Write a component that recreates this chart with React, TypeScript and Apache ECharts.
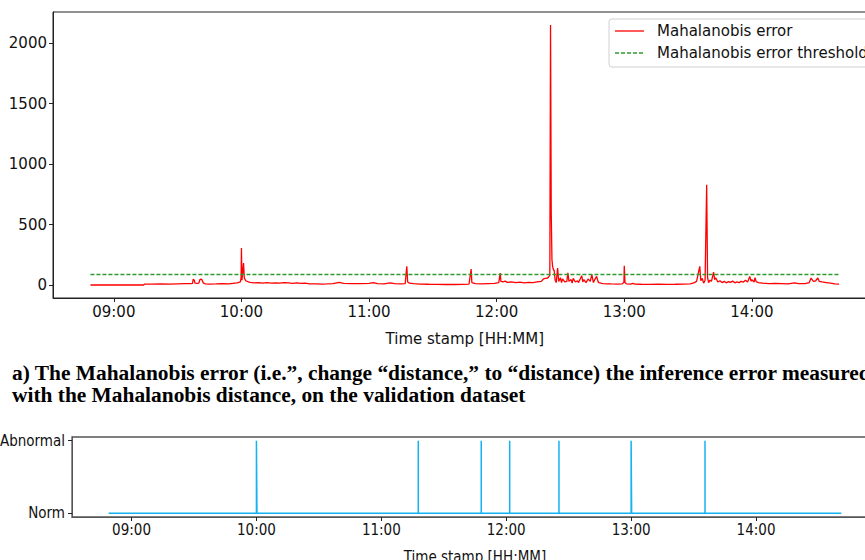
import React, { useEffect, useRef } from "react";
import * as echarts from "echarts";

// ---- Data ----
const errTimes: string[] = [
  "08:49:00", "09:14:00", "09:14:30", "09:18:00", "09:22:00", "09:26:00", "09:30:00", "09:33:00", "09:36:00",
  "09:37:00", "09:37:20", "09:37:50", "09:38:10", "09:39:00", "09:40:00", "09:40:30", "09:41:00", "09:41:30",
  "09:42:00", "09:43:00", "09:45:00", "09:48:00", "09:51:00", "09:54:00", "09:56:00", "09:58:00", "09:59:30",
  "09:59:50", "10:00:00", "10:00:15", "10:00:40", "10:01:00", "10:01:20", "10:02:00", "10:03:00", "10:04:00",
  "10:06:00", "10:08:00", "10:10:00", "10:12:00", "10:14:00", "10:16:00", "10:18:00", "10:20:00", "10:22:00",
  "10:24:00", "10:26:00", "10:28:00", "10:30:00", "10:32:00", "10:35:00", "10:38:00", "10:40:00", "10:43:00",
  "10:46:00", "10:48:00", "10:52:00", "10:56:00", "11:00:00", "11:02:00", "11:04:00", "11:07:00", "11:10:00",
  "11:12:00", "11:15:00", "11:17:00", "11:17:45", "11:18:10", "11:19:00", "11:21:00", "11:24:00", "11:28:00",
  "11:32:00", "11:36:00", "11:40:00", "11:44:00", "11:47:00", "11:48:00", "11:48:20", "11:50:00", "11:53:00",
  "11:56:00", "11:59:00", "12:01:00", "12:01:40", "12:02:00", "12:03:00", "12:04:00", "12:05:00", "12:07:00",
  "12:09:00", "12:11:00", "12:13:00", "12:15:00", "12:17:00", "12:19:00", "12:21:00", "12:22:00", "12:23:00",
  "12:24:00", "12:25:00", "12:25:20", "12:25:40", "12:26:00", "12:26:20", "12:26:50", "12:27:00", "12:27:30",
  "12:28:00", "12:28:40", "12:29:10", "12:30:00", "12:30:30", "12:31:00", "12:32:00", "12:33:00", "12:33:30",
  "12:34:00", "12:35:00", "12:35:30", "12:36:00", "12:37:00", "12:38:00", "12:38:30", "12:39:00", "12:40:00",
  "12:40:30", "12:41:00", "12:42:00", "12:43:00", "12:44:00", "12:44:45", "12:45:30", "12:46:00", "12:47:00",
  "12:47:40", "12:48:00", "12:49:00", "12:50:00", "12:52:00", "12:54:00", "12:57:00", "12:59:00", "12:59:50",
  "13:00:00", "13:00:20", "13:01:00", "13:03:00", "13:04:00", "13:05:00", "13:08:00", "13:12:00", "13:16:00",
  "13:20:00", "13:24:00", "13:28:00", "13:31:00", "13:33:00", "13:34:00", "13:35:30", "13:36:00", "13:36:40",
  "13:37:20", "13:38:00", "13:38:45", "13:39:10", "13:39:40", "13:40:20", "13:41:00", "13:42:00", "13:42:30",
  "13:43:00", "13:44:00", "13:45:00", "13:46:00", "13:47:00", "13:48:00", "13:49:00", "13:50:00", "13:51:00",
  "13:52:00", "13:53:00", "13:54:00", "13:55:00", "13:56:00", "13:57:00", "13:58:00", "13:59:00", "13:59:40",
  "14:00:00", "14:01:00", "14:01:30", "14:02:00", "14:03:00", "14:05:00", "14:08:00", "14:11:00", "14:14:00",
  "14:17:00", "14:20:00", "14:22:00", "14:25:00", "14:27:00", "14:27:50", "14:28:30", "14:29:00", "14:30:00",
  "14:31:00", "14:31:40", "14:33:00", "14:35:00", "14:37:00", "14:39:00", "14:41:00",
];
const errValues: number[] = [
  0, 0, 8, 8, 9, 8, 10, 11, 12,
  14, 48, 40, 15, 14, 16, 45, 50, 42,
  18, 10, 8, 9, 12, 10, 14, 18, 25,
  60, 306, 40, 120, 182, 60, 35, 28, 22,
  18, 20, 15, 19, 16, 18, 15, 20, 17,
  14, 18, 13, 15, 10, 9, 8, 9, 12,
  22, 14, 12, 11, 14, 20, 12, 10, 18,
  11, 10, 12, 154, 25, 15, 12, 8, 6,
  5, 4, 4, 5, 8, 132, 20, 12, 10,
  12, 14, 20, 99, 30, 25, 32, 22, 26,
  20, 24, 18, 22, 20, 25, 30, 50, 55,
  58, 80, 2151, 600, 209, 150, 120, 126, 40,
  20, 140, 30, 60, 20, 50, 25, 30, 100,
  30, 45, 15, 55, 25, 35, 20, 40, 77,
  25, 45, 20, 50, 30, 85, 20, 40, 71,
  30, 20, 15, 12, 10, 9, 8, 10, 20,
  160, 20, 10, 8, 14, 7, 6, 5, 6,
  5, 6, 8, 10, 20, 30, 154, 35, 55,
  15, 40, 829, 60, 20, 40, 30, 107, 45,
  60, 25, 35, 20, 30, 18, 28, 22, 32,
  18, 26, 20, 30, 24, 40, 25, 71, 30,
  45, 25, 60, 28, 20, 15, 12, 14, 12,
  10, 18, 11, 12, 20, 58, 40, 30, 35,
  58, 30, 25, 20, 15, 10, 8,
];
const thresholdTimes: string[] = ["08:49:00", "14:41:00"];
const thresholdValues: number[] = [87, 87];

const flagTimes: string[] = [
  "08:49:00",
  "10:00:00", "10:00:00", "10:00:15", "10:00:15",
  "11:17:45", "11:17:45", "11:17:45",
  "11:48:00", "11:48:00", "11:48:00",
  "12:01:40", "12:01:40", "12:01:40",
  "12:25:20", "12:25:20", "12:25:20",
  "13:00:00", "13:00:00", "13:00:15", "13:00:15",
  "13:35:30", "13:35:30", "13:35:30",
  "14:41:00",
];
const flagValues: number[] = [
  0,
  0, 1, 1, 0,
  0, 1, 0,
  0, 1, 0,
  0, 1, 0,
  0, 1, 0,
  0, 1, 1, 0,
  0, 1, 0,
  0,
];
const flagLabels: string[] = ["Norm", "Abnormal"];
const hourTicks: string[] = ["09:00", "10:00", "11:00", "12:00", "13:00", "14:00"];
const errTicks: number[] = [0, 500, 1000, 1500, 2000];

const seriesNames = ["Mahalanobis error", "Mahalanobis error threshold"];
const titleLines = [
  "a) The Mahalanobis error (i.e.\u201d, change \u201cdistance,\u201d to \u201cdistance) the inference error measured",
  "with the Mahalanobis distance, on the validation dataset",
];
const xTitle = "Time stamp [HH:MM]";

const RED = "#ff0000";
const GREEN = "#2f9a2f";
const BLUE = "#12b3ee";

// ---- helpers ----
const toMin = (s: string): number => {
  const p = s.split(":");
  return Number(p[0]) * 60 + Number(p[1]) + (p[2] ? Number(p[2]) / 60 : 0);
};
const fmt = (v: number): string => {
  const h = Math.floor(v / 60);
  const m = Math.round(v - h * 60);
  return String(h).padStart(2, "0") + ":" + String(m).padStart(2, "0");
};

export default function App() {
  const ref = useRef<HTMLDivElement>(null);
  useEffect(() => {
    if (!ref.current) return;
    const chart = echarts.init(ref.current, undefined, { renderer: "svg" });
    const tMin = toMin(errTimes[0]);
    const tMax = toMin(errTimes[errTimes.length - 1]);
    const pad = (tMax - tMin) * 0.05;
    const xMin = tMin - pad;
    const xMax = tMax + pad;
    const vMax = Math.max(...errValues);
    const yPad = vMax * 0.05;
    const tickVals = hourTicks.map(toMin);

    const sans = "DejaVu Sans";
    const cond = "'DejaVu Sans Condensed', 'DejaVu Sans'";

    const xAxisBase = (font: string, margin: number, gap: number, lineColor: string) => ({
      type: "value",
      min: xMin,
      max: xMax,
      axisLine: { show: true, onZero: false, lineStyle: { color: lineColor, width: 1 } },
      axisTick: { show: true, length: 4, customValues: tickVals, lineStyle: { color: "#222" } },
      axisLabel: {
        customValues: tickVals,
        formatter: (v: number) => fmt(v),
        fontSize: 15,
        fontFamily: font,
        color: "#111",
        margin,
      },
      splitLine: { show: false },
      name: xTitle,
      nameLocation: "middle",
      nameGap: gap,
      nameTextStyle: { fontSize: 15, fontFamily: font, color: "#111" },
    });

    const legendX = 609;
    const legendY = 19;

    chart.setOption({
      animation: false,
      backgroundColor: "#fff",
      grid: [
        {
          left: 53, top: 12, width: 823.5, height: 286,
          outerBoundsMode: "none", containLabel: false,
          show: true, borderColor: "#222", borderWidth: 1, backgroundColor: "transparent",
        },
        {
          left: 72, top: 437, width: 806, height: 80,
          outerBoundsMode: "none", containLabel: false,
          show: true, borderColor: "#555", borderWidth: 1.3, backgroundColor: "transparent",
        },
      ],
      xAxis: [
        { ...xAxisBase(sans, 6, 33, "#222"), gridIndex: 0 },
        { ...xAxisBase(cond, 5, 32, "#555"), gridIndex: 1 },
      ],
      yAxis: [
        {
          type: "value",
          gridIndex: 0,
          min: -yPad,
          max: vMax + yPad,
          axisLine: { show: true, onZero: false, lineStyle: { color: "#222" } },
          axisTick: { show: true, length: 4, customValues: errTicks, lineStyle: { color: "#222" } },
          axisLabel: {
            customValues: errTicks,
            formatter: (v: number) => String(v),
            fontSize: 15,
            fontFamily: sans,
            color: "#111",
            margin: 6,
          },
          splitLine: { show: false },
        },
        {
          type: "value",
          gridIndex: 1,
          min: -0.05,
          max: 1.05,
          axisLine: { show: true, onZero: false, lineStyle: { color: "#555" } },
          axisTick: { show: true, length: 4, customValues: [0, 1], lineStyle: { color: "#222" } },
          axisLabel: {
            customValues: [0, 1],
            formatter: (v: number) => flagLabels[Math.round(v)] ?? "",
            fontSize: 15,
            fontFamily: cond,
            color: "#111",
            margin: 7,
          },
          splitLine: { show: false },
        },
      ],
      series: [
        {
          name: seriesNames[0],
          type: "line",
          xAxisIndex: 0,
          yAxisIndex: 0,
          symbol: "none",
          data: errTimes.map((t, i) => [toMin(t), errValues[i]]),
          lineStyle: { color: RED, width: 1.3 },
          itemStyle: { color: RED },
          z: 2,
        },
        {
          name: seriesNames[1],
          type: "line",
          xAxisIndex: 0,
          yAxisIndex: 0,
          symbol: "none",
          data: thresholdTimes.map((t, i) => [toMin(t), thresholdValues[i]]),
          lineStyle: { color: GREEN, width: 1.3, type: [4, 2] },
          itemStyle: { color: GREEN },
          z: 3,
        },
        {
          name: "flag",
          type: "line",
          xAxisIndex: 1,
          yAxisIndex: 1,
          symbol: "none",
          data: flagTimes.map((t, i) => [toMin(t), flagValues[i]]),
          lineStyle: { color: BLUE, width: 1.5 },
          itemStyle: { color: BLUE },
        },
      ],
      graphic: [
        {
          type: "rect",
          shape: { x: legendX, y: legendY, width: 290, height: 48, r: 3 },
          style: { fill: "#fff", stroke: "#d0d0d0", lineWidth: 1 },
          z: 10,
        },
        {
          type: "line",
          shape: { x1: legendX + 6, y1: legendY + 12, x2: legendX + 35, y2: legendY + 12 },
          style: { stroke: RED, lineWidth: 1.3 },
          z: 11,
        },
        {
          type: "line",
          shape: { x1: legendX + 6, y1: legendY + 34, x2: legendX + 35, y2: legendY + 34 },
          style: { stroke: GREEN, lineWidth: 1.3, lineDash: [4, 2] },
          z: 11,
        },
        {
          type: "text",
          x: legendX + 48,
          y: legendY + 12,
          style: {
            text: seriesNames[0],
            font: "15px 'DejaVu Sans'",
            fill: "#111",
            verticalAlign: "middle",
          },
          z: 11,
        },
        {
          type: "text",
          x: legendX + 48,
          y: legendY + 34,
          style: {
            text: seriesNames[1],
            font: "15px 'DejaVu Sans'",
            fill: "#111",
            verticalAlign: "middle",
          },
          z: 11,
        },
        {
          type: "text",
          x: 12,
          y: 362,
          scaleX: 1.07,
          style: {
            text: titleLines.join("\n"),
            font: "bold 20px 'Liberation Serif'",
            lineHeight: 22,
            fill: "#000",
          },
        },
      ],
    });
    return () => chart.dispose();
  }, []);
  return (
    <div style={{ position: "absolute", left: 0, top: 0, width: 865, height: 560, overflow: "hidden" }}>
      <div ref={ref} style={{ width: 890, height: 560 }} />
    </div>
  );
}
